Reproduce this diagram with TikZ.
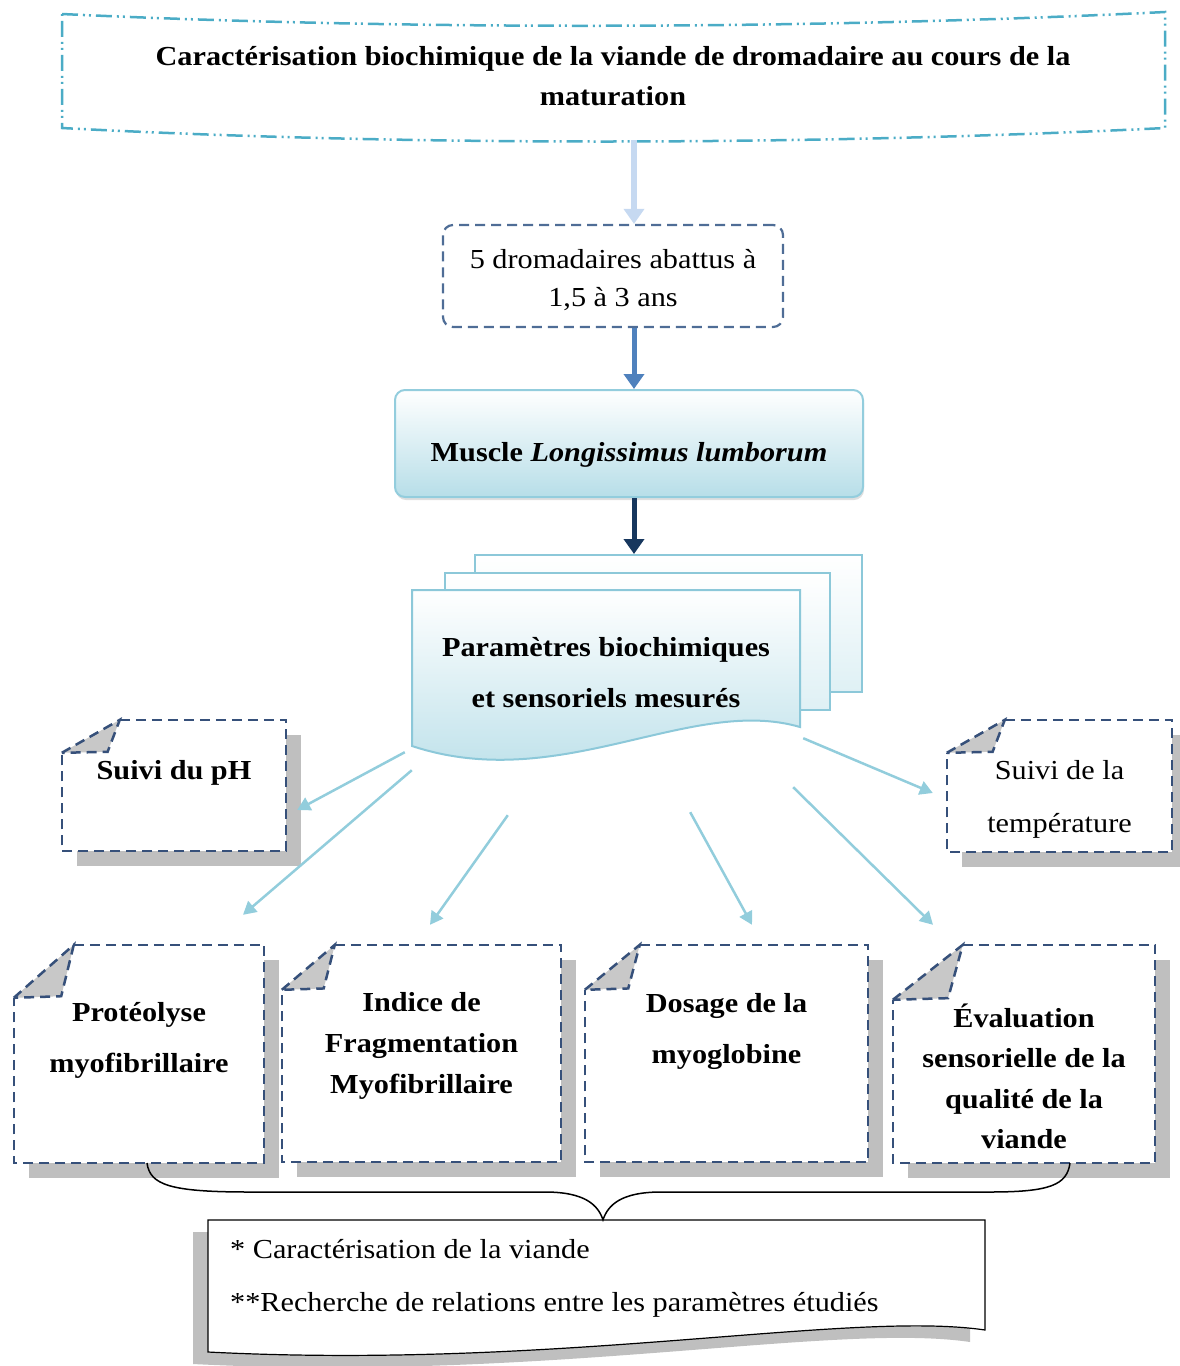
\documentclass[tikz,border=0pt]{standalone}
\usepackage{fontspec}
\setmainfont{Liberation Serif}[FakeStretch=1.1]
\usepackage{xcolor}
\usetikzlibrary{arrows.meta,positioning,calc,shadows}
\definecolor{titleteal}{RGB}{75,172,198}
\definecolor{arrowpale}{RGB}{198,217,241}
\definecolor{arrowmid}{RGB}{79,129,189}
\definecolor{arrowdark}{RGB}{23,55,94}
\definecolor{arrowteal}{RGB}{146,205,220}
\definecolor{dromline}{RGB}{79,109,150}
\definecolor{noteline}{RGB}{54,80,122}
\definecolor{muscleline}{RGB}{147,205,221}
\definecolor{docline}{RGB}{140,200,217}
\definecolor{blueL}{RGB}{183,222,232}
\definecolor{shadowgray}{RGB}{191,191,191}
\definecolor{foldgray}{RGB}{200,200,200}
\tikzset{
    txt/.style={font=\fontsize{27.5}{51}\selectfont, align=center, inner sep=0pt},
    txtb/.style={font=\fontsize{27.5}{51}\selectfont\bfseries, align=center, inner sep=0pt},
    dromage/.style={rectangle, rounded corners=10pt, draw=dromline, line width=2.2pt, dash pattern=on 10pt off 6pt, inner sep=0pt},
    musclebox/.style={rectangle, rounded corners=10pt, draw=muscleline, line width=2pt, top color=white, bottom color=blueL, drop shadow={opacity=0.25, shadow xshift=1pt, shadow yshift=-3pt}},
    docpage/.style={rectangle, draw=docline, line width=2pt, top color=white, bottom color=blueL!45, inner sep=0pt},
    notebox/.style={rectangle, fill=white, inner sep=0pt, general shadow={fill=shadowgray, shadow xshift=15pt, shadow yshift=-15pt}},
    notedash/.style={draw=noteline, line width=2.5pt, dash pattern=on 10pt off 6pt},
    bigarrow/.style={line width=6pt, -{Triangle[width=20pt,length=15pt]}},
    thinarrow/.style={draw=arrowteal, line width=2.5pt, -{Triangle[width=14pt,length=13pt]}},
}
\begin{document}
\begin{tikzpicture}[x=1pt, y=-1pt]
    \useasboundingbox (0,0) rectangle (1179,1366);
    % Title
    \draw[titleteal, line width=2.5pt, dash pattern=on 16pt off 5pt on 2pt off 4pt on 2pt off 5pt]
        (62,14) .. controls (400,30) and (800,30) .. (1165,12) -- (1165,128)
        .. controls (800,146) and (400,146) .. (62,128) -- cycle;
    \node[txtb, font=\fontsize{27.5}{40}\selectfont\bfseries, minimum width=1103pt, minimum height=128pt] (tit) at (613,76)
        {Caractérisation biochimique de la viande de dromadaire au cours de la\\maturation};
    \coordinate (ax) at (634,0);
    % Animals and muscle
    \node[dromage, txt, font=\fontsize{27.5}{38}\selectfont, minimum width=340pt, minimum height=102pt] (drom) at (613,276)
        {\strut 5 dromadaires abattus à\\1,5 à 3 ans};
    \node[musclebox, txtb, text height=42pt, text depth=7pt, minimum width=468pt, minimum height=107pt] (mus) at (629,443.5)
        {Muscle \textit{Longissimus lumborum}};
    % Stacked documents
    \node[docpage, minimum width=387pt, minimum height=137pt] (pb) at (668.5,623.5) {};
    \node[docpage, minimum width=385pt, minimum height=137pt] (pm) at (637.5,641.5) {};
    \shade[top color=white, bottom color=blueL, draw=docline, line width=2pt]
        (412,590) -- (800,590) -- (800,727) .. controls (690,695) and (560,795) .. (412,746) -- cycle;
    \node[txtb, minimum width=388pt, minimum height=170pt] (param) at (606,673)
        {Paramètres biochimiques\\et sensoriels mesurés};
    \draw[bigarrow, arrowpale] (tit.south -| ax) -- (drom.north -| ax);
    \draw[bigarrow, arrowmid, line width=5pt] (drom.south -| ax) -- (mus.north -| ax);
    \draw[bigarrow, arrowdark, line width=5pt] (mus.south -| ax) -- (pb.north -| ax);
    % Measured parameters
    \node[notebox, minimum width=224pt, minimum height=131pt] (ph) at (174,785.5) {};
    \node[notebox, minimum width=225pt, minimum height=132pt] (temp) at (1059.5,786) {};
    \node[notebox, minimum width=250pt, minimum height=218pt] (prot) at (139,1054) {};
    \node[notebox, minimum width=279pt, minimum height=217pt] (ind) at (421.5,1053.5) {};
    \node[notebox, minimum width=283pt, minimum height=217pt] (dos) at (726.5,1053.5) {};
    \node[notebox, minimum width=262pt, minimum height=218pt] (eva) at (1024,1054) {};
    \foreach \n/\fx/\fy in {ph/58/33, temp/58/33, prot/60/53, ind/53/45, dos/55/45, eva/70/55} {
        \draw[notedash] ($(\n.north west)+(\fx,0)$) -- (\n.north east) -- (\n.south east)
            -- (\n.south west) -- ($(\n.north west)+(0,\fy)$);
        \filldraw[notedash, fill=foldgray] ($(\n.north west)+(0,\fy)$) -- ($(\n.north west)+(\fx,0)$)
            -- ($(\n.north west)+(0.79*\fx,0.97*\fy)$) -- cycle;
    }
    \node[txtb] (phT) at ([yshift=-53pt]ph.north) {Suivi du pH};
    \node[txt, font=\fontsize{27.5}{53}\selectfont] (tempT) at ([yshift=-79.5pt]temp.north) {Suivi de la\\température};
    \node[txtb] (protT) at ([yshift=-95.5pt]prot.north) {Protéolyse\\myofibrillaire};
    \node[txtb, font=\fontsize{27.5}{41}\selectfont\bfseries] (indT) at ([yshift=-101.5pt]ind.north) {Indice de\\Fragmentation\\Myofibrillaire};
    \node[txtb] (dosT) at ([yshift=-86.5pt]dos.north) {Dosage de la\\myoglobine};
    \node[txtb, font=\fontsize{27.5}{40.5}\selectfont\bfseries] (evaT) at ([yshift=-131.5pt]eva.north) {Évaluation\\sensorielle de la\\qualité de la\\viande};
    % Arrows to the parameters
    \draw[thinarrow] ([xshift=-7pt,yshift=6pt]param.south west) -- ([xshift=11pt,yshift=-24.5pt]ph.east);
    \draw[thinarrow] ([yshift=-12pt]param.south west) -- ([xshift=104pt,yshift=30pt]prot.north);
    \draw[thinarrow] ([xshift=96pt,yshift=-57pt]param.south west) -- ([xshift=8.5pt,yshift=20pt]ind.north);
    \draw[thinarrow] ([xshift=-110pt,yshift=-54pt]param.south east) -- ([xshift=25.5pt,yshift=20pt]dos.north);
    \draw[thinarrow] ([xshift=-7pt,yshift=-29pt]param.south east) -- ([xshift=-91pt,yshift=20pt]eva.north);
    \draw[thinarrow] ([xshift=3pt,yshift=20pt]param.south east) -- ([xshift=-14pt,yshift=-7pt]temp.west);
    % Summary
    \coordinate (bl) at (147,1163);
    \coordinate (br) at (1070,1163);
    \fill[shadowgray, shift={(-15,12)}]
        (208,1220) -- (985,1220) -- (985,1330) .. controls (850,1310) and (560,1370) .. (208,1352) -- cycle;
    \filldraw[fill=white, draw=black, line width=1.2pt]
        (208,1220) -- (985,1220) -- (985,1330) .. controls (850,1310) and (560,1370) .. (208,1352) -- cycle;
    \node[minimum width=777pt, minimum height=132pt, inner sep=0pt] (summ) at (596.5,1286) {};
    \node[txt, font=\fontsize{27.5}{53}\selectfont, align=left, anchor=west] (summT) at (230,1278)
        {* Caractérisation de la viande\\**Recherche de relations entre les paramètres étudiés};
    \draw[line width=1.5pt] (bl) .. controls (150,1185) and (170,1192) .. (250,1192) -- (545,1192)
        .. controls (585,1192) and (598,1205) .. (summ.north -| 603,0) .. controls (608,1205) and (621,1192) .. (661,1192)
        -- (990,1192) .. controls (1050,1192) and (1067,1185) .. (br);
\end{tikzpicture}
\end{document}
